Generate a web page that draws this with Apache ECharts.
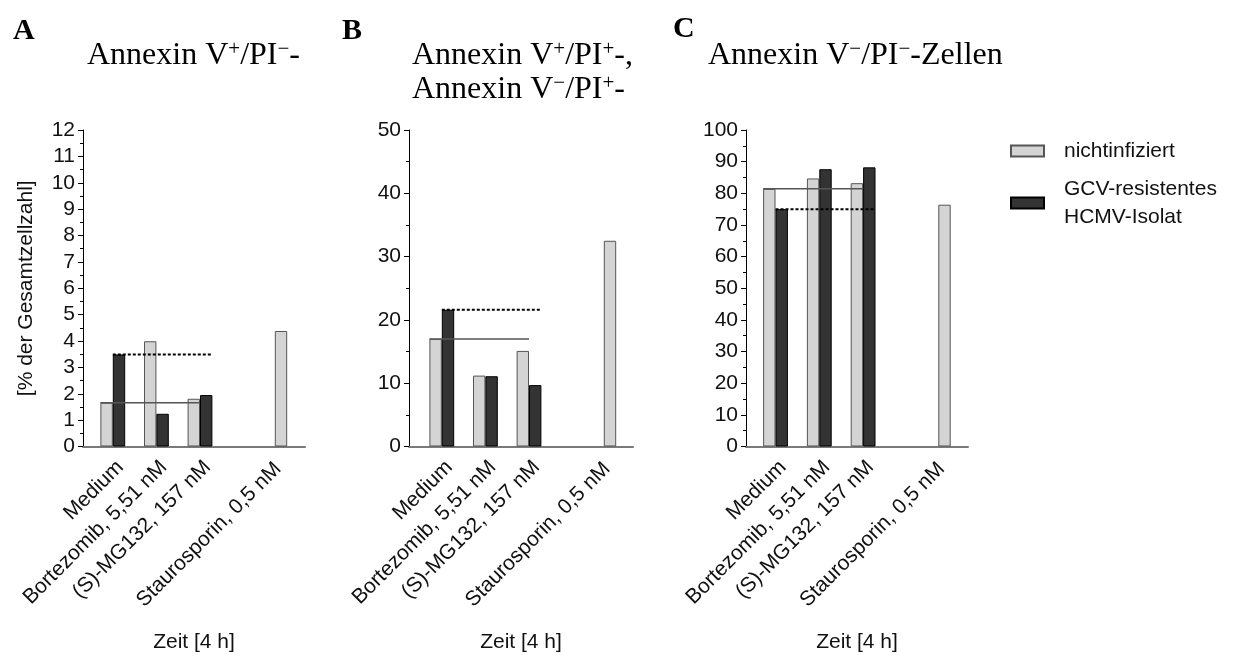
<!DOCTYPE html>
<html><head><meta charset="utf-8">
<script src="https://cdn.jsdelivr.net/npm/echarts@6/dist/echarts.min.js"></script>
<style>html,body{margin:0;padding:0;background:#fff}#c{width:1237px;height:655px}</style>
</head><body><div id="c"></div>
<script>
// ---- data ----
const categories = ['Medium', 'Bortezomib, 5,51 nM', '(S)-MG132, 157 nM', '', 'Staurosporin, 0,5 nM'];
const seriesNames = ['nichtinfiziert', 'GCV-resistentes\nHCMV-Isolat'];
const uninfectedA = [1.66, 3.99, 1.81, null, 4.38];
const resistantA  = [3.49, 1.24, 1.95, null, null];
const uninfectedB = [17.0, 11.2, 15.1, null, 32.5];
const resistantB  = [21.6, 11.1, 9.7, null, null];
const uninfectedC = [81.4, 84.7, 83.2, null, 76.4];
const resistantC  = [75.0, 87.6, 88.2, null, null];
const yScaleA = [0, 12, 1];   // min, max, interval
const yScaleB = [0, 50, 10];
const yScaleC = [0, 100, 10];
const xAxisTitle = 'Zeit [4 h]';
const yAxisTitle = '[% der Gesamtzellzahl]';
const panelLetters = ['A', 'B', 'C'];
const panelTitles = [
  'Annexin V{sup|+}/PI{sup|\u2212}-',
  'Annexin V{sup|+}/PI{sup|+}-,\nAnnexin V{sup|\u2212}/PI{sup|+}-',
  'Annexin V{sup|\u2212}/PI{sup|\u2212}-Zellen'
];
const lastMediumComparison = 2; // reference lines run to the (S)-MG132 group

// ---- layout / style ----
const SANS = 'Liberation Sans, Arial, sans-serif';
const SERIF = 'Liberation Serif, Times New Roman, serif';
const TOP = 130, PH = 316.5, BAR_W = 12.4;
const layout = [
  { left: 91,    width: 218, axisLeft: 83,  axisWidth: 222, titleLeft: 87,  letterLeft: 13 },
  { left: 420,   width: 218, axisLeft: 409, axisWidth: 224, titleLeft: 412, letterLeft: 342 },
  { left: 753.6, width: 219, axisLeft: 746, axisWidth: 222, titleLeft: 708, letterLeft: 673 }
];
const panelData = [
  [uninfectedA, resistantA, yScaleA],
  [uninfectedB, resistantB, yScaleB],
  [uninfectedC, resistantC, yScaleC]
];
const lightStyle = { color: '#d4d4d4', borderColor: '#555', borderWidth: 1 };
const darkStyle = { color: '#333333', borderColor: '#000', borderWidth: 1 };

const grid = [], xAxis = [], yAxis = [], series = [], title = [];
layout.forEach((L, p) => {
  const [u, r, ys] = panelData[p];
  grid.push({ left: L.left, width: L.width, top: TOP, height: PH });
  grid.push({ left: L.axisLeft, width: L.axisWidth, top: TOP, height: PH });
  const gMain = 2 * p, gFrame = 2 * p + 1;
  const xCat = xAxis.length;
  xAxis.push({
    gridIndex: gMain, type: 'category',
    data: categories.map((c, i) => i === 4
      ? { value: c, textStyle: { verticalAlign: 'middle', padding: [0, 13, 0, 0] } } : c),
    axisLine: { show: false }, axisTick: { show: false },
    axisLabel: { interval: 0, rotate: 45, fontSize: 21, margin: 10, color: '#111', fontFamily: SANS,
      verticalAlign: 'top' }
  });
  const xVal = xAxis.length;
  xAxis.push({ gridIndex: gMain, type: 'value', min: -0.5, max: categories.length - 0.5, show: false });
  xAxis.push({
    gridIndex: gFrame, type: 'value', min: 0, max: 1,
    axisLine: { show: true, lineStyle: { color: '#7a7a7a', width: 2 } },
    axisTick: { show: false }, axisLabel: { show: false }, splitLine: { show: false },
    name: xAxisTitle, nameLocation: 'middle', nameGap: 185,
    nameTextStyle: { fontSize: 21, color: '#111', fontFamily: SANS }
  });
  const yMain = yAxis.length;
  const ya = {
    gridIndex: gMain, type: 'value', min: ys[0], max: ys[1], interval: ys[2],
    offset: L.left - L.axisLeft,
    axisLine: { show: true, onZero: false, lineStyle: { color: '#000', width: 1 } },
    axisTick: { show: true, length: 5, lineStyle: { color: '#000' } },
    minorTick: { show: true, splitNumber: 2, length: 3, lineStyle: { color: '#000' } },
    splitLine: { show: false },
    axisLabel: { fontSize: 21, color: '#111', margin: 8, fontFamily: SANS }
  };
  if (p === 0) {
    ya.name = yAxisTitle; ya.nameLocation = 'middle'; ya.nameGap = 46;
    ya.nameTextStyle = { fontSize: 21, color: '#111', fontFamily: SANS };
  }
  yAxis.push(ya);
  yAxis.push({ gridIndex: gFrame, type: 'value', min: 0, max: 1, show: false });

  series.push({ type: 'bar', name: seriesNames[0], xAxisIndex: xCat, yAxisIndex: yMain,
    data: u, barWidth: BAR_W, barGap: '0%', itemStyle: lightStyle, silent: true });
  series.push({ type: 'bar', name: seriesNames[1], xAxisIndex: xCat, yAxisIndex: yMain,
    data: r, barWidth: BAR_W, barGap: '0%', itemStyle: darkStyle, silent: true });
  const f = BAR_W / (L.width / categories.length);
  series.push({ type: 'line', xAxisIndex: xVal, yAxisIndex: yMain, symbol: 'none', silent: true, z: 5,
    data: [[-f, u[0]], [lastMediumComparison, u[0]]],
    lineStyle: { color: '#555', width: 1.5 } });
  series.push({ type: 'line', xAxisIndex: xVal, yAxisIndex: yMain, symbol: 'none', silent: true, z: 5,
    data: [[0, r[0]], [lastMediumComparison + f, r[0]]],
    lineStyle: { color: '#000', width: 2, type: [3, 2] } });

  title.push({ text: panelLetters[p], left: L.letterLeft, top: p === 2 ? 14 : 16, padding: 0,
    textStyle: { fontFamily: SERIF, fontWeight: 'bold', fontSize: 30, color: '#000' } });
  title.push({ text: panelTitles[p], left: L.titleLeft, top: 39, padding: 0,
    textStyle: { fontFamily: SERIF, fontWeight: 'normal', fontSize: 32, lineHeight: 34, color: '#000',
      rich: { sup: { fontFamily: SERIF, fontSize: 21, lineHeight: 22, verticalAlign: 'top', color: '#000' } } } });
});

const chart = echarts.init(document.getElementById('c'), null, { renderer: 'canvas' });
chart.setOption({
  animation: false,
  backgroundColor: '#fff',
  title, grid, xAxis, yAxis, series,
  legend: {
    data: seriesNames, orient: 'vertical', left: 1010, top: 137, padding: 0,
    itemWidth: 33, itemHeight: 11, itemGap: 10, selectedMode: false, icon: 'rect',
    textStyle: { fontSize: 21, lineHeight: 28, color: '#111', fontFamily: SANS, padding: [0, 0, 0, 15] }
  }
});
</script></body></html>
